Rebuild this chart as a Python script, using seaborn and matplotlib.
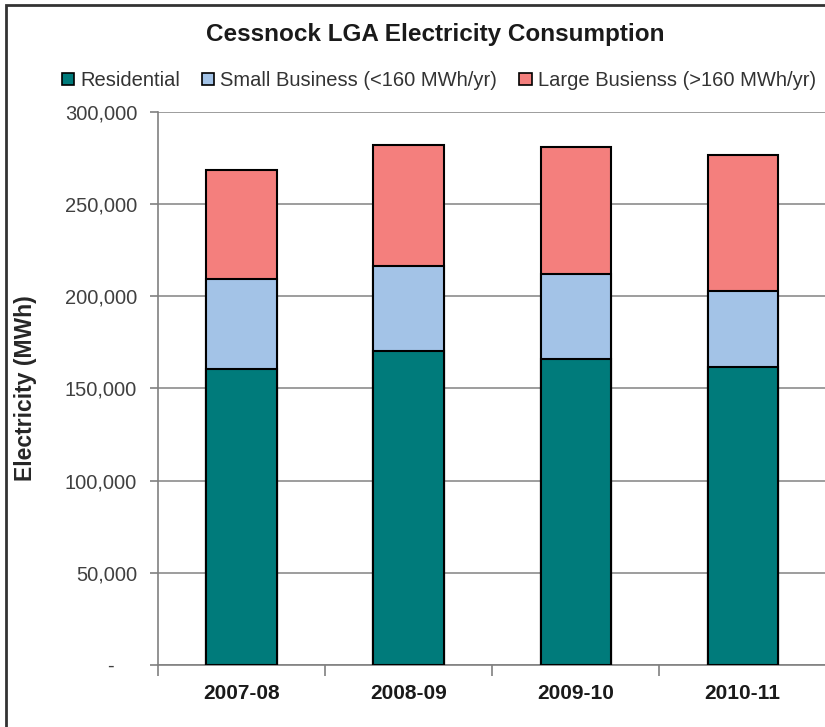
import matplotlib
matplotlib.use("Agg")
import matplotlib.pyplot as plt
import seaborn as sns
import pandas as pd
from matplotlib.patches import Patch, Rectangle
from matplotlib.ticker import FuncFormatter

# Data (MWh)
years = ["2007-08", "2008-09", "2009-10", "2010-11"]
residential = [160600, 170200, 165800, 161700]
small_business = [49000, 46300, 46200, 41400]
large_business = [58900, 65600, 69200, 73600]

series_names = ["Residential", "Small Business (<160 MWh/yr)", "Large Busienss (>160 MWh/yr)"]
colors = ["#007b7b", "#a3c3e7", "#f47f7d"]

df = pd.DataFrame({
    "year": years,
    "res": residential,
    "small": small_business,
    "large": large_business,
})
df["res_small"] = df["res"] + df["small"]
df["total"] = df["res_small"] + df["large"]

sns.set_style("white")
plt.rcParams["font.family"] = ["Liberation Sans", "DejaVu Sans"]

fig = plt.figure(figsize=(8.25, 7.27), dpi=100)
ax = fig.add_axes([0.1915, 0.0853, 0.81, 0.7607])

# stacked bars drawn as overlapping cumulative totals
for col, c in [("total", colors[2]), ("res_small", colors[1]), ("res", colors[0])]:
    sns.barplot(data=df, x="year", y=col, color=c, saturation=1, width=0.42,
                edgecolor="black", linewidth=1.5, ax=ax, zorder=3)

ax.set_xlim(-0.5, 3.5)
ax.set_ylim(0, 300000)
ax.set_yticks(range(0, 300001, 50000))
ax.yaxis.set_major_formatter(FuncFormatter(lambda v, p: "-    " if v == 0 else f"{int(v):,}"))
ax.grid(axis="y", color="#8c8c8c", linewidth=1.2, zorder=0)
ax.set_axisbelow(True)

for s in ["top", "right"]:
    ax.spines[s].set_visible(False)
for s in ["left", "bottom"]:
    ax.spines[s].set_color("#808080")
    ax.spines[s].set_linewidth(1.2)

ax.set_xlabel("")
ax.set_ylabel("Electricity (MWh)", fontsize=16.5, fontweight="bold")
ax.yaxis.set_label_coords(-0.181, 0.5)
ax.tick_params(axis="y", length=6, width=1.2, color="#808080", labelsize=14.5,
               labelcolor="#404040", left=True, pad=9)
ax.tick_params(axis="x", length=0, labelsize=15, pad=14, labelcolor="#1a1a1a")
for t in ax.get_xticklabels():
    t.set_fontweight("bold")

# category boundary ticks on the x axis
ax.set_xticks([-0.5, 0.5, 1.5, 2.5], minor=True)
ax.tick_params(axis="x", which="minor", length=8, width=1.2, color="#808080", bottom=True)

fig.text(0.527, 0.952, "Cessnock LGA Electricity Consumption", ha="center", va="center",
         fontsize=17.5, fontweight="bold", color="#1a1a1a")

handles = [Patch(facecolor=c, edgecolor="black", linewidth=1.2) for c in colors]
fig.legend(handles, series_names, loc="center", bbox_to_anchor=(0.532, 0.889), ncol=3,
           frameon=False, fontsize=14.5, handlelength=0.6, handleheight=0.6,
           handletextpad=0.3, columnspacing=1.1, labelcolor="#333333")

# outer frame (left and top edges visible)
fig.patches.append(Rectangle((0.007, -0.05), 1.2, 1.043, transform=fig.transFigure,
                             fill=False, edgecolor="#333333", linewidth=2))

fig.savefig("out.png", dpi=100)
